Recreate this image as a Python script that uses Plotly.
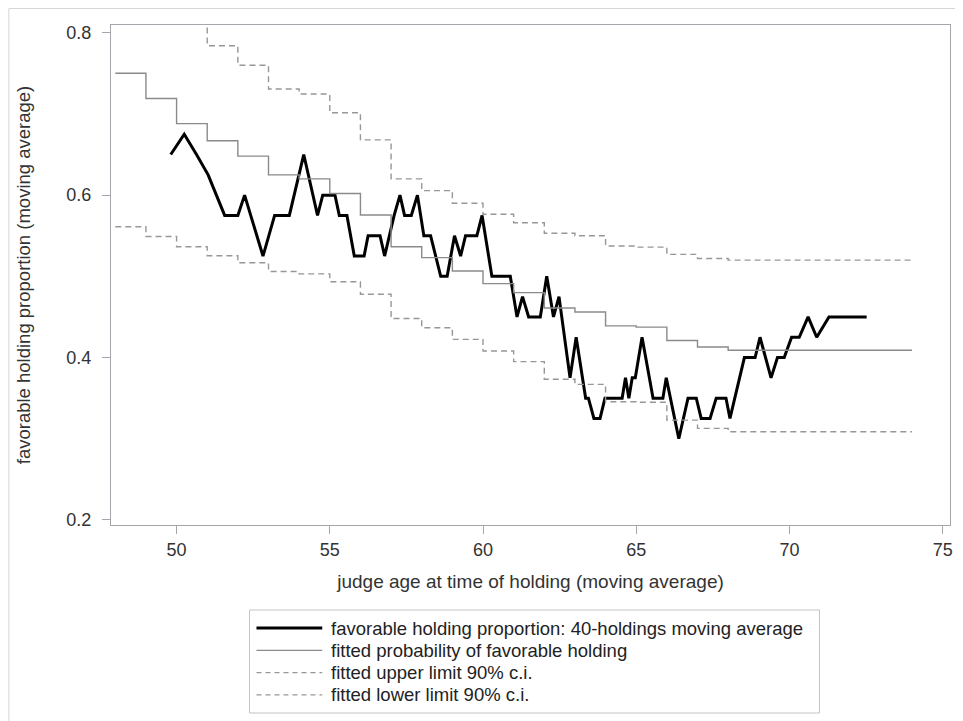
import plotly.graph_objects as go

# moving average of favorable holdings (40-holdings window)
ma_age = [49.81, 50.25, 50.65, 51.03, 51.57, 52.0, 52.22, 52.82, 53.2, 53.68,
          54.15, 54.6, 54.77, 55.17, 55.31, 55.56, 55.8, 56.12, 56.25, 56.64,
          56.79, 57.1, 57.29, 57.44, 57.66, 57.86, 58.07, 58.29, 58.62, 58.83,
          59.07, 59.27, 59.43, 59.8, 59.97, 60.29, 60.89, 61.11, 61.29, 61.49,
          61.87, 62.08, 62.3, 62.48, 62.84, 63.04, 63.35, 63.44, 63.62, 63.82,
          63.98, 64.54, 64.65, 64.76, 64.87, 64.97, 65.19, 65.55, 65.87, 65.98,
          66.39, 66.69, 66.96, 67.12, 67.41, 67.61, 67.93, 68.06, 68.53, 68.88,
          69.04, 69.4, 69.61, 69.83, 70.07, 70.32, 70.61, 70.89, 71.29, 72.52]
ma_prop = [0.65, 0.675, 0.65, 0.625, 0.575, 0.575, 0.6, 0.525, 0.575, 0.575,
           0.65, 0.575, 0.6, 0.6, 0.575, 0.575, 0.525, 0.525, 0.55, 0.55,
           0.525, 0.575, 0.6, 0.575, 0.575, 0.6, 0.55, 0.55, 0.5, 0.5,
           0.55, 0.525, 0.55, 0.55, 0.575, 0.5, 0.5, 0.45, 0.475, 0.45,
           0.45, 0.5, 0.45, 0.475, 0.375, 0.425, 0.35, 0.35, 0.325, 0.325,
           0.35, 0.35, 0.375, 0.35, 0.375, 0.375, 0.425, 0.35, 0.35, 0.375,
           0.3, 0.35, 0.35, 0.325, 0.325, 0.35, 0.35, 0.325, 0.4, 0.4,
           0.425, 0.375, 0.4, 0.4, 0.425, 0.425, 0.45, 0.425, 0.45, 0.45]

# fitted model (step function by integer age)
fit_age = list(range(48, 75))
fit_prob = [0.750, 0.719, 0.688, 0.667, 0.648, 0.625, 0.620, 0.602, 0.5755, 0.5365,
            0.523, 0.5065, 0.491, 0.480, 0.461, 0.456, 0.439, 0.4375, 0.421, 0.413,
            0.409, 0.409, 0.409, 0.409, 0.409, 0.409, 0.409]
upper_age = list(range(50, 75))
upper_ci = [0.818, 0.784, 0.760, 0.7307, 0.7245, 0.7015, 0.668, 0.620, 0.6055, 0.590,
            0.5765, 0.566, 0.553, 0.550, 0.5373, 0.536, 0.527, 0.522, 0.520, 0.520,
            0.520, 0.520, 0.520, 0.520, 0.520]
lower_age = list(range(48, 75))
lower_ci = [0.561, 0.549, 0.5365, 0.5254, 0.5167, 0.506, 0.503, 0.4934, 0.478, 0.448,
            0.4367, 0.4224, 0.408, 0.395, 0.3732, 0.367, 0.3456, 0.345, 0.323, 0.3128,
            0.3086, 0.3086, 0.3086, 0.3086, 0.3086, 0.3086, 0.3086]

x_ticks = [50, 55, 60, 65, 70, 75]
y_ticks = [0.2, 0.4, 0.6, 0.8]

series_names = ["favorable holding proportion: 40-holdings moving average",
                "fitted probability of favorable holding",
                "fitted upper limit 90% c.i.",
                "fitted lower limit 90% c.i."]

FONT = "Liberation Sans, Arial, sans-serif"
AX = "#a3a7ab"
TXT = "#333333"
styles = [dict(color="black", width=3),
          dict(color="#8a8a8a", width=1.4),
          dict(color="#979797", width=1.4, dash="6px,4px"),
          dict(color="#979797", width=1.4, dash="6px,4px")]

fig = go.Figure()
fig.add_trace(go.Scatter(x=ma_age, y=ma_prop, mode="lines", line=styles[0],
                         name=series_names[0]))
fig.add_trace(go.Scatter(x=fit_age, y=fit_prob, mode="lines", line=dict(**styles[1], shape="hv"),
                         name=series_names[1]))
fig.add_trace(go.Scatter(x=upper_age, y=upper_ci, mode="lines", line=dict(**styles[2], shape="hv"),
                         name=series_names[2]))
fig.add_trace(go.Scatter(x=lower_age, y=lower_ci, mode="lines", line=dict(**styles[3], shape="hv"),
                         name=series_names[3]))

fig.update_layout(
    width=955, height=713,
    margin=dict(l=103, r=10, t=17, b=196),
    paper_bgcolor="white", plot_bgcolor="white",
    font=dict(family=FONT, size=18, color=TXT),
    showlegend=False,
    xaxis=dict(range=[47.86, 75.24], tickvals=x_ticks, ticktext=[str(v) for v in x_ticks],
               showgrid=False, zeroline=False, showline=True, linecolor=AX, linewidth=1,
               mirror=True, ticks="outside", ticklen=8, tickcolor=AX,
               tickfont=dict(size=18, color=TXT),
               title=dict(text="judge age at time of holding (moving average)",
                          font=dict(size=19, color=TXT), standoff=16)),
    yaxis=dict(range=[0.1938, 0.8095], tickvals=y_ticks, ticktext=["0.2", "0.4", "0.6", "0.8"],
               showgrid=False, zeroline=False, showline=True, linecolor=AX, linewidth=1,
               mirror=True, ticks="outside", ticklen=8, tickcolor=AX, ticklabelstandoff=7,
               tickfont=dict(size=18, color=TXT),
               title=dict(text="favorable holding proportion (moving average)",
                          font=dict(size=18.5, color=TXT), standoff=30)),
)

# outer frame of the graphic
fig.add_shape(type="rect", xref="paper", yref="paper",
              x0=(8.5 - 111) / 842, x1=(985 - 111) / 842,
              y0=(525 - 745) / 500, y1=(525 - 8.5) / 500,
              line=dict(color="#d6d6d6", width=1), layer="below")

# legend box (drawn below the plot, in paper coordinates)
def px_x(p):
    return (p - 111) / 842


def px_y(p):
    return (525 - p) / 500


fig.add_shape(type="rect", xref="paper", yref="paper",
              x0=px_x(250), x1=px_x(822), y0=px_y(713), y1=px_y(610),
              line=dict(color="#c4c4c4", width=1), fillcolor="white")
legend_dash = ["solid", "solid", "5px,4px", "5px,4px"]
for i, (name, st) in enumerate(zip(series_names, styles)):
    yy = px_y(628 + i * 22.3)
    fig.add_shape(type="line", xref="paper", yref="paper",
                  x0=px_x(257), x1=px_x(323), y0=yy, y1=yy,
                  line=dict(color=st["color"], width=st["width"] if i == 0 else 1.3,
                            dash=legend_dash[i]))
    fig.add_annotation(x=px_x(330), y=yy, xref="paper", yref="paper", text=name,
                       showarrow=False, xanchor="left", yanchor="middle",
                       font=dict(size=18.5, color="#222222"))

fig.write_html("out.html")
